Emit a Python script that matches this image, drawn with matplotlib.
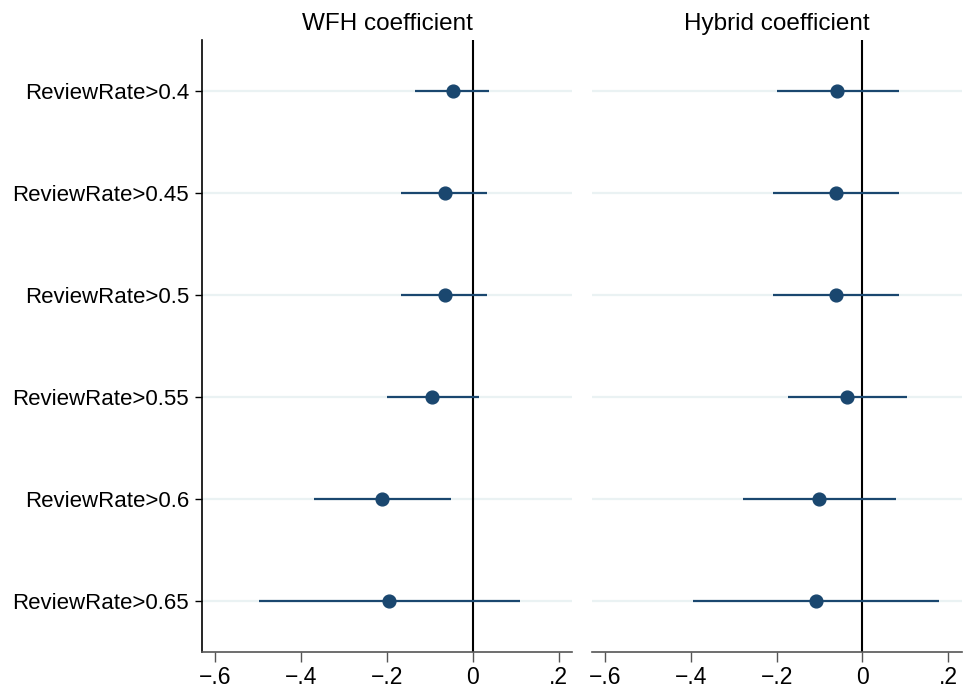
import matplotlib

matplotlib.use("Agg")

import matplotlib.pyplot as plt
import numpy as np

plt.rcParams["font.family"] = ["Liberation Sans", "DejaVu Sans"]

LABELS = [
    "ReviewRate>0.4",
    "ReviewRate>0.45",
    "ReviewRate>0.5",
    "ReviewRate>0.55",
    "ReviewRate>0.6",
    "ReviewRate>0.65",
]

WFH_COEF = [-0.047, -0.066, -0.066, -0.094, -0.212, -0.195]
WFH_LO = [-0.134, -0.167, -0.167, -0.201, -0.370, -0.499]
WFH_HI = [0.038, 0.033, 0.033, 0.014, -0.051, 0.109]

HYB_COEF = [-0.058, -0.061, -0.061, -0.036, -0.100, -0.109]
HYB_LO = [-0.200, -0.209, -0.209, -0.174, -0.278, -0.396]
HYB_HI = [0.086, 0.086, 0.086, 0.104, 0.078, 0.178]

XTICKS = [-0.6, -0.4, -0.2, 0.0, 0.2]
XTICK_LABELS = ["\u2212.6", "\u2212.4", "\u2212.2", "0", ".2"]

NAVY = "#1a476f"
GRID = "#eaf2f3"

fig = plt.figure(figsize=(9.63, 6.90), dpi=100)
ax1 = fig.add_axes([0.2095, 0.0551, 0.3848, 0.887])
ax2 = fig.add_axes([0.6144, 0.0551, 0.3842, 0.887])

ypos = np.arange(1, len(LABELS) + 1)

panels = [
    (ax1, "WFH coefficient", WFH_COEF, WFH_LO, WFH_HI),
    (ax2, "Hybrid coefficient", HYB_COEF, HYB_LO, HYB_HI),
]

for ax, title, coef, lo, hi in panels:
    for y in ypos:
        ax.axhline(y, color=GRID, linewidth=1.6, zorder=0)
    ax.axvline(0, color="black", linewidth=1.5, zorder=1)
    ax.hlines(ypos, lo, hi, color=NAVY, linewidth=1.6, zorder=2)
    ax.plot(coef, ypos, "o", color=NAVY, markersize=9.2, zorder=3)

    ax.set_xlim(-0.632, 0.232)
    ax.set_ylim(6.5, 0.5)
    ax.set_xticks(XTICKS)
    ax.set_xticklabels(XTICK_LABELS)
    ax.set_title(title, fontsize=17.5, pad=7)

    for side in ("top", "right"):
        ax.spines[side].set_visible(False)
    ax.spines["bottom"].set_color("#555555")
    ax.spines["bottom"].set_linewidth(1.2)
    ax.tick_params(axis="x", length=7, width=1.0, color="#555555", labelsize=16.5, pad=3)

ax1.set_yticks(ypos)
ax1.set_yticklabels(LABELS)
ax1.spines["left"].set_color("black")
ax1.spines["left"].set_linewidth(1.2)
ax1.tick_params(axis="y", length=5, width=1.0, labelsize=16, pad=4)

ax2.spines["left"].set_visible(False)
ax2.set_yticks([])

fig.savefig("out.png", dpi=100, facecolor="white")
